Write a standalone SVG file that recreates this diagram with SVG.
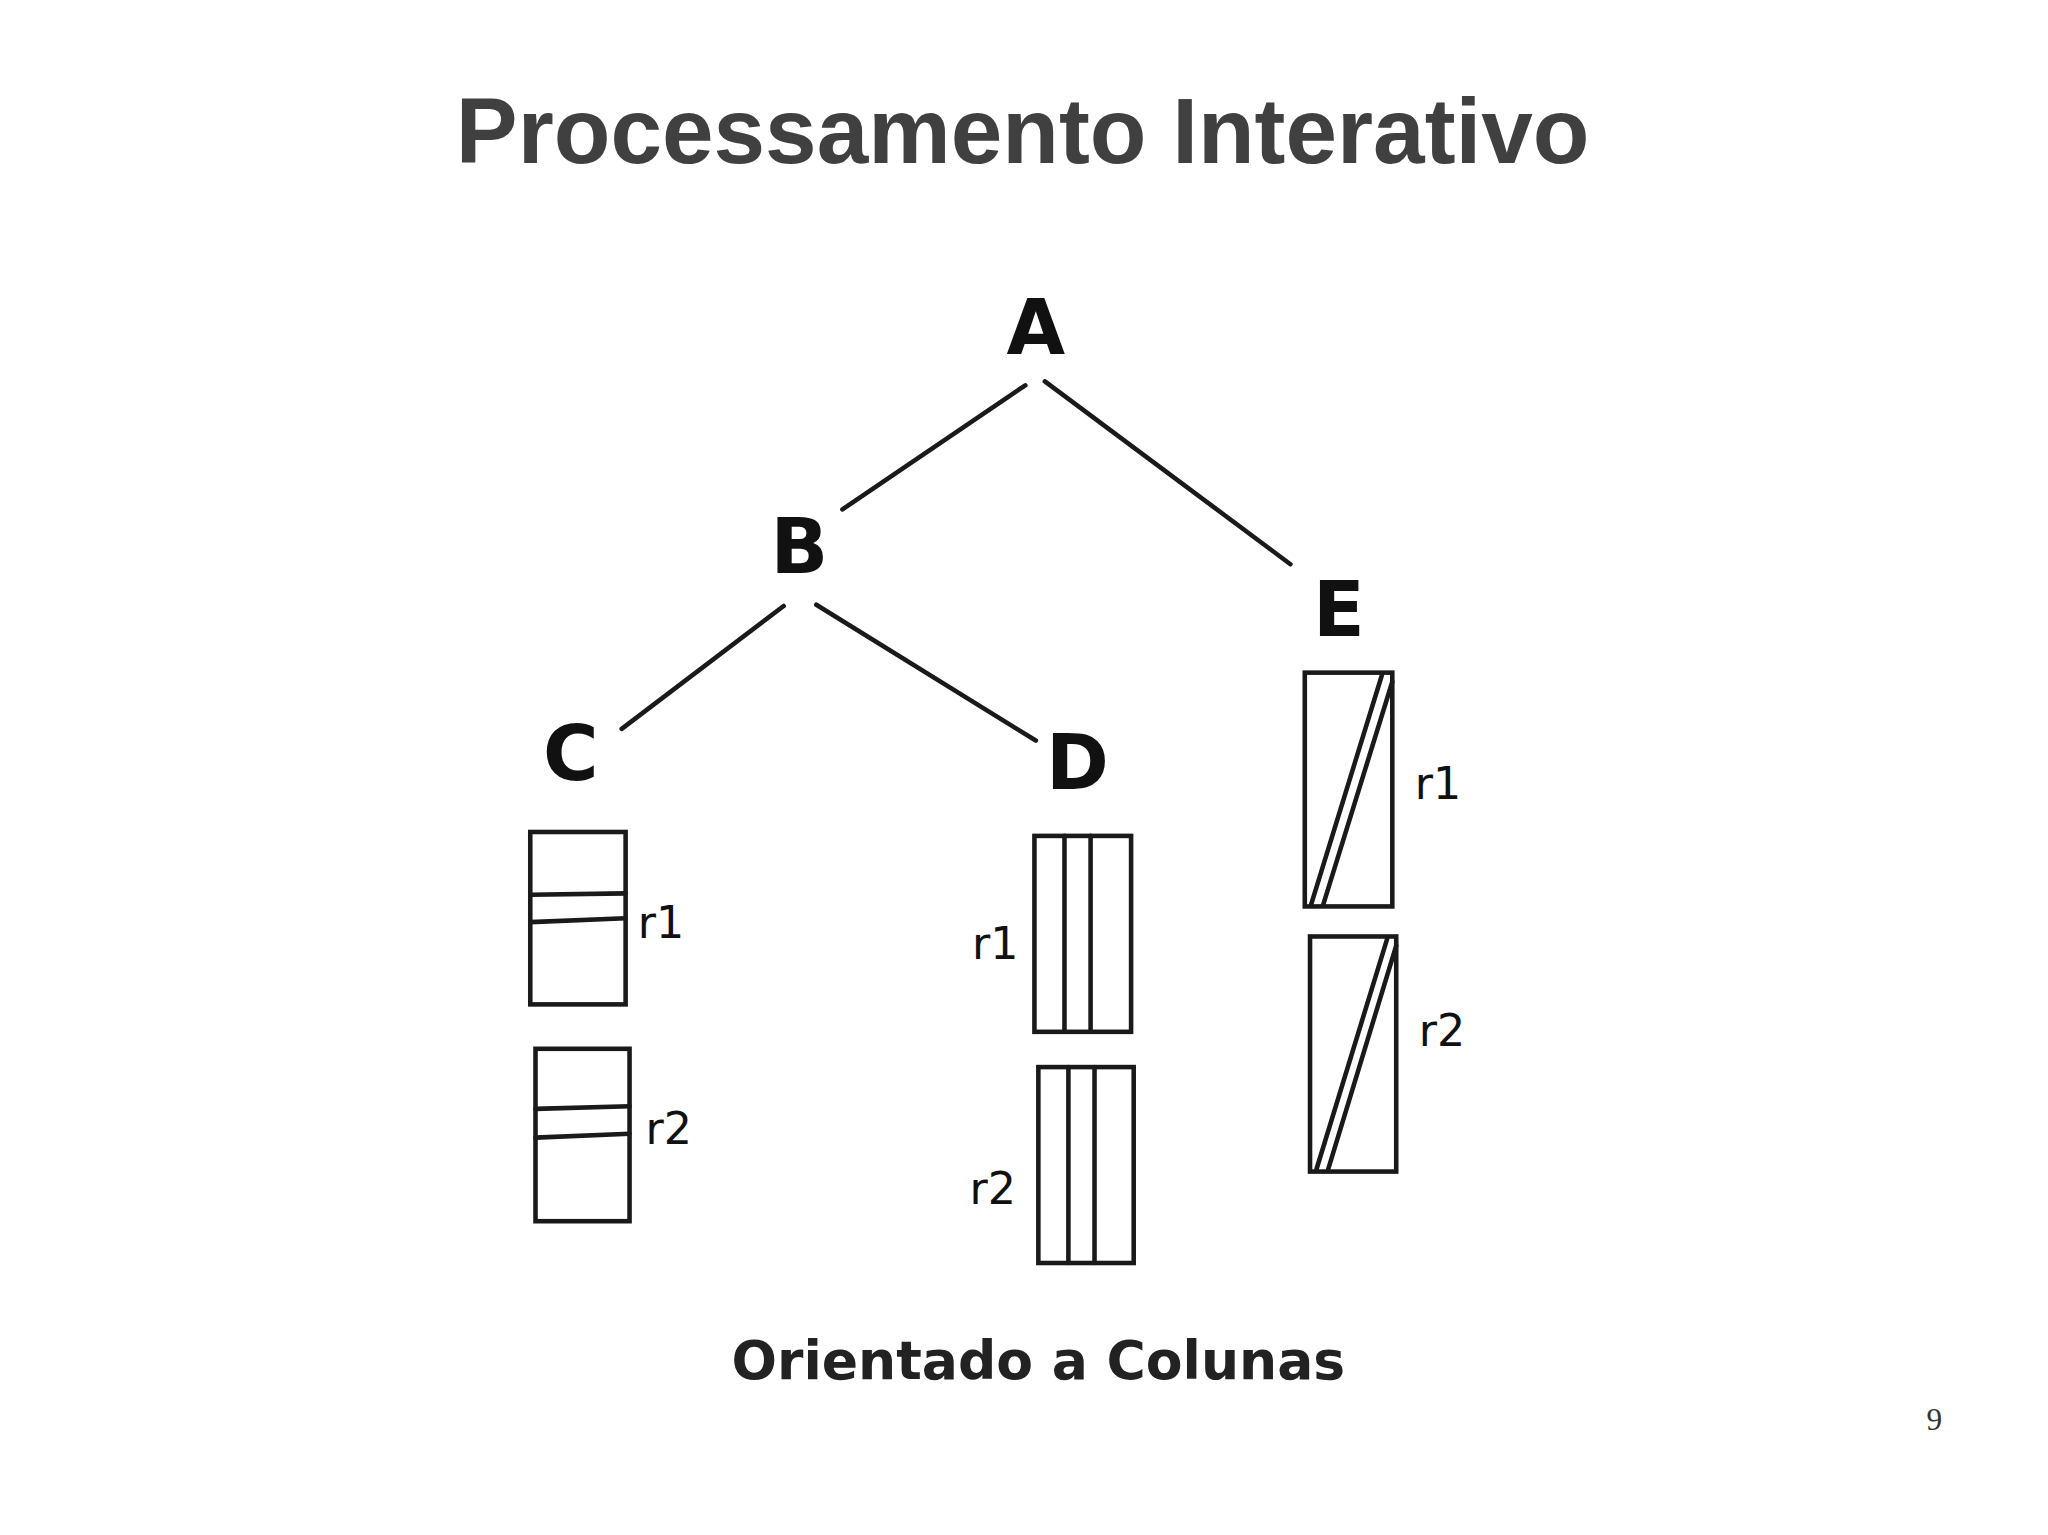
<svg xmlns="http://www.w3.org/2000/svg" width="2048" height="1535" viewBox="0 0 2048 1535">
<style>
.ln{stroke:#1a1a1a;stroke-width:3.5;fill:none;stroke-linecap:round}
.bx{stroke:#1a1a1a;stroke-width:3.5;fill:none}
.lbl{font-family:"DejaVu Sans",sans-serif;font-weight:bold;fill:#111;text-anchor:middle}
.r{font-family:"DejaVu Sans",sans-serif;font-size:34px;fill:#111;text-anchor:middle}
</style>
<rect width="2048" height="1535" fill="#fff"/>
<g transform="scale(1.3061)">
<text id="title" x="783" y="125" font-family="Liberation Sans,Arial,sans-serif" font-weight="bold" font-size="71" fill="#404040" text-anchor="middle">Processamento Interativo</text>
<g id="connectors">
<line class="ln" x1="785" y1="295" x2="645" y2="390"/>
<line class="ln" x1="800" y1="292" x2="988" y2="432"/>
<line class="ln" x1="600" y1="464" x2="476" y2="558"/>
<line class="ln" x1="625" y1="463" x2="793" y2="567"/>
</g>
<g id="A"><text class="lbl" x="793" y="271" font-size="58">A</text></g>
<g id="B"><text class="lbl" x="612" y="439" font-size="58">B</text></g>
<g id="E"><text class="lbl" x="1025" y="487" font-size="58">E</text></g>
<g id="C"><text class="lbl" x="437" y="597" font-size="58">C</text></g>
<g id="D"><text class="lbl" x="825" y="604" font-size="58">D</text></g>
<g id="C-r1"><rect class="bx" x="406" y="637" width="73" height="132"/><line class="ln" x1="406" y1="685" x2="479" y2="684"/><line class="ln" x1="406" y1="706" x2="479" y2="703"/><text class="r" x="506" y="718">r1</text></g>
<g id="C-r2"><rect class="bx" x="410" y="803" width="72" height="132"/><line class="ln" x1="410" y1="849" x2="482" y2="847"/><line class="ln" x1="410" y1="871" x2="482" y2="868"/><text class="r" x="512" y="876">r2</text></g>
<g id="D-r1"><rect class="bx" x="792" y="640" width="74" height="150"/><line class="ln" x1="815" y1="640" x2="815" y2="790"/><line class="ln" x1="835" y1="640" x2="835" y2="790"/><text class="r" x="762" y="734">r1</text></g>
<g id="D-r2"><rect class="bx" x="795" y="817" width="73" height="150"/><line class="ln" x1="818" y1="817" x2="818" y2="967"/><line class="ln" x1="838" y1="817" x2="838" y2="967"/><text class="r" x="760" y="922">r2</text></g>
<g id="E-r1"><rect class="bx" x="999" y="515" width="67" height="179"/><line class="ln" x1="1004" y1="692" x2="1058" y2="517"/><line class="ln" x1="1013" y1="693" x2="1066" y2="522"/><text class="r" x="1101" y="612">r1</text></g>
<g id="E-r2"><rect class="bx" x="1003" y="717" width="66" height="180"/><line class="ln" x1="1008" y1="895" x2="1062" y2="719"/><line class="ln" x1="1017" y1="895" x2="1069" y2="724"/><text class="r" x="1104" y="801">r2</text></g>
<text id="caption" x="795" y="1056" font-family="DejaVu Sans,sans-serif" font-weight="bold" font-size="41" fill="#222" text-anchor="middle">Orientado a Colunas</text>
<text id="page" x="1481" y="1095" font-family="Liberation Serif,serif" font-size="24" fill="#333" text-anchor="middle">9</text>
</g>
</svg>
